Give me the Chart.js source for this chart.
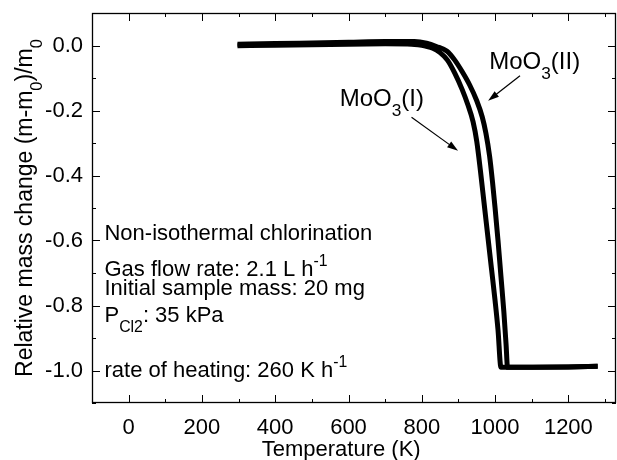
<!DOCTYPE html>
<html>
<head>
<meta charset="utf-8">
<script src="https://cdn.jsdelivr.net/npm/chart.js@4"></script>
<style>
  body { margin: 0; background: #fff; }
  #wrap { width: 617px; height: 460px; }
</style>
</head>
<body>
<div id="wrap"><canvas id="chart"></canvas></div>
<script>
// MoO3(I) - left curve
const tempI = [297, 400, 500, 600, 700, 760, 790, 810, 830, 850, 870, 890, 910, 925, 940, 950, 960, 970, 980, 990, 1000, 1008, 1016, 1030, 1100, 1200, 1280];
const massI = [-0.001, 0.001, 0.002, 0.004, 0.005, 0.005, 0.002, -0.002, -0.008, -0.022, -0.045, -0.085, -0.135, -0.18, -0.235, -0.295, -0.385, -0.485, -0.585, -0.685, -0.785, -0.875, -0.99, -0.99, -0.99, -0.989, -0.987];
// MoO3(II) - right curve
const tempII = [297, 400, 500, 600, 700, 780, 813, 840, 868, 890, 910, 930, 950, 965, 975, 985, 993, 1000, 1008, 1016, 1024, 1030, 1034, 1100, 1200, 1280];
const massII = [0.004, 0.006, 0.008, 0.01, 0.012, 0.012, 0.007, -0.003, -0.017, -0.045, -0.08, -0.12, -0.17, -0.22, -0.27, -0.34, -0.42, -0.5, -0.6, -0.71, -0.82, -0.92, -0.99, -0.99, -0.989, -0.987];

const xTicks = [0, 200, 400, 600, 800, 1000, 1200];
const yTicks = [-1.0, -0.8, -0.6, -0.4, -0.2, 0];

const FONT = '"Liberation Sans", Arial, sans-serif';
Chart.defaults.font.family = FONT;
Chart.defaults.color = '#000';

// text bits: [text, mode]  mode '' | 'sub' | 'sup'
const notes = [
  { x: -66, y: -0.598, parts: [['Non-isothermal chlorination', '']] },
  { x: -66, y: -0.71, parts: [['Gas flow rate: 2.1 L h', ''], ['-1', 'sup']] },
  { x: -66, y: -0.768, parts: [['Initial sample mass: 20 mg', '']] },
  { x: -66, y: -0.852, parts: [['P', ''], ['Cl2', 'sub'], [': 35 kPa', '']] },
  { x: -66, y: -1.019, parts: [['rate of heating: 260 K h', ''], ['-1', 'sup']] }
];
const labels = [
  { x: 576, y: -0.185, parts: [['MoO', ''], ['3', 'sub'], ['(I)', '']], from: [772, -0.221], to: [899, -0.324] },
  { x: 984, y: -0.072, parts: [['MoO', ''], ['3', 'sub'], ['(II)', '']], from: [1068, -0.093], to: [981, -0.170] }
];

function richWidth(ctx, parts, size) {
  let w = 0;
  parts.forEach(([t, m]) => {
    ctx.font = (m ? size * 0.72 : size) + 'px ' + FONT;
    w += ctx.measureText(t).width;
  });
  return w;
}

function richText(ctx, x, y, parts, size) {
  let cx = x;
  parts.forEach(([t, m]) => {
    ctx.font = (m ? size * 0.72 : size) + 'px ' + FONT;
    const dy = m === 'sub' ? size * 0.42 : m === 'sup' ? -size * 0.45 : 0;
    ctx.fillText(t, cx, y + dy);
    cx += ctx.measureText(t).width;
  });
}

function arrow(ctx, x1, y1, x2, y2) {
  const a = Math.atan2(y2 - y1, x2 - x1);
  ctx.beginPath();
  ctx.moveTo(x1, y1);
  ctx.lineTo(x2 - 8 * Math.cos(a), y2 - 8 * Math.sin(a));
  ctx.lineWidth = 1.2;
  ctx.stroke();
  ctx.beginPath();
  ctx.moveTo(x2, y2);
  ctx.lineTo(x2 - 11 * Math.cos(a) + 3.5 * Math.sin(a), y2 - 11 * Math.sin(a) - 3.5 * Math.cos(a));
  ctx.lineTo(x2 - 11 * Math.cos(a) - 3.5 * Math.sin(a), y2 - 11 * Math.sin(a) + 3.5 * Math.cos(a));
  ctx.closePath();
  ctx.fill();
}

const extras = {
  id: 'extras',
  afterDraw(chart) {
    const ctx = chart.ctx;
    const xs = chart.scales.x, ys = chart.scales.y;
    const { left, right, top, bottom } = chart.chartArea;
    ctx.save();
    ctx.strokeStyle = '#000';
    ctx.fillStyle = '#000';
    ctx.lineWidth = 1.3;
    // frame
    ctx.strokeRect(left + 0.5, top + 0.5, right - left - 1, bottom - top - 1);
    // inward ticks, all four sides
    ctx.lineWidth = 1;
    ctx.beginPath();
    for (let v = -100; v <= xs.max; v += 100) {
      const px = Math.round(xs.getPixelForValue(v)) + 0.5;
      const len = v % 200 === 0 ? 8 : 4;
      ctx.moveTo(px, bottom); ctx.lineTo(px, bottom - len);
      ctx.moveTo(px, top); ctx.lineTo(px, top + len);
    }
    for (let k = -11; k <= 1; k++) {
      const py = Math.round(ys.getPixelForValue(k / 10)) + 0.5;
      const len = k % 2 === 0 ? 8 : 4;
      ctx.moveTo(left, py); ctx.lineTo(left + len, py);
      ctx.moveTo(right, py); ctx.lineTo(right - len, py);
    }
    ctx.stroke();

    ctx.textBaseline = 'alphabetic';
    ctx.textAlign = 'left';
    notes.forEach(n => richText(ctx, xs.getPixelForValue(n.x), ys.getPixelForValue(n.y), n.parts, 22));
    labels.forEach(l => {
      richText(ctx, xs.getPixelForValue(l.x), ys.getPixelForValue(l.y), l.parts, 24);
      arrow(ctx, xs.getPixelForValue(l.from[0]), ys.getPixelForValue(l.from[1]),
        xs.getPixelForValue(l.to[0]), ys.getPixelForValue(l.to[1]));
    });

    // x axis title
    ctx.font = '22px ' + FONT;
    ctx.textAlign = 'center';
    ctx.textBaseline = 'middle';
    ctx.fillText('Temperature (K)', xs.getPixelForValue(580), 450);

    // y axis title with subscripts
    ctx.textAlign = 'left';
    ctx.textBaseline = 'alphabetic';
    const yTitle = [['Relative mass change (m-m', ''], ['0', 'sub'], [')/m', ''], ['0', 'sub']];
    const w = richWidth(ctx, yTitle, 23);
    ctx.translate(32, ys.getPixelForValue(-0.5));
    ctx.rotate(-Math.PI / 2);
    richText(ctx, -w / 2, 0, yTitle, 23);
    ctx.restore();
  }
};

new Chart(document.getElementById('chart'), {
  type: 'line',
  data: {
    datasets: [
      { label: 'MoO3(I)', data: tempI.map((t, i) => ({ x: t, y: massI[i] })) },
      { label: 'MoO3(II)', data: tempII.map((t, i) => ({ x: t, y: massII[i] })) }
    ]
  },
  options: {
    responsive: true,
    maintainAspectRatio: false,
    animation: false,
    layout: { padding: { top: 13, right: 1, left: 0, bottom: 0 } },
    elements: {
      line: { borderColor: '#000', borderWidth: 5, cubicInterpolationMode: 'monotone', fill: false },
      point: { radius: 0 }
    },
    plugins: { legend: { display: false }, tooltip: { enabled: false } },
    scales: {
      x: {
        type: 'linear', min: -100, max: 1330,
        grid: { display: false, drawTicks: false },
        border: { display: false },
        afterBuildTicks: s => { s.ticks = xTicks.map(v => ({ value: v })); },
        afterFit: s => { s.height = 57; s.paddingLeft = 0; s.paddingRight = 0; },
        ticks: { font: { size: 22 }, padding: 12, maxRotation: 0, autoSkip: false, callback: v => String(v) }
      },
      y: {
        type: 'linear', min: -1.1, max: 0.1,
        grid: { display: false, drawTicks: false },
        border: { display: false },
        afterBuildTicks: s => { s.ticks = yTicks.map(v => ({ value: v })); },
        afterFit: s => { s.width = 92; s.paddingTop = 0; s.paddingBottom = 0; },
        ticks: { font: { size: 22 }, padding: 9, autoSkip: false, callback: v => v.toFixed(1) }
      }
    }
  },
  plugins: [extras]
});
</script>
</body>
</html>
